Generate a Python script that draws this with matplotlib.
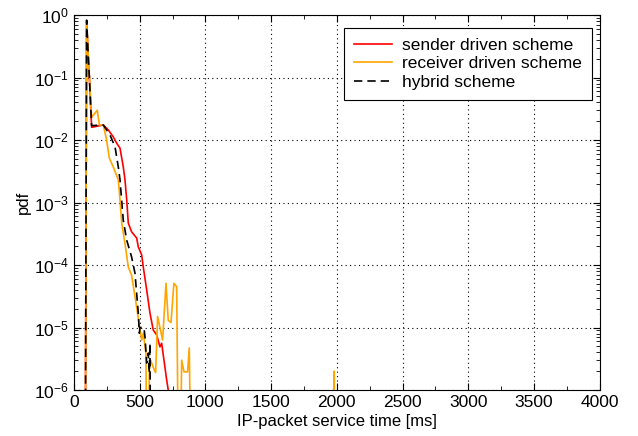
import numpy as np
import matplotlib
matplotlib.use("Agg")
import matplotlib.pyplot as plt
from matplotlib.ticker import MultipleLocator, LogLocator, NullFormatter

plt.rcParams['font.family'] = ['Liberation Sans', 'DejaVu Sans']
plt.rcParams['mathtext.default'] = 'regular'

# service time [ms] and pdf for the three schemes (values under 1e-6 drop out of view)
sender_t = [85, 96, 109, 117, 134, 223, 261, 299, 325, 350, 375, 388, 401, 413, 438, 477,
            489, 515, 527, 553, 578, 603, 629, 654, 667, 705, 717, 725]
sender_p = [1e-8, 0.8, 0.21, 0.10, 0.016, 0.0174, 0.0145, 0.0112, 0.0089, 0.0074, 0.0037,
            0.0023, 0.0011, 4.7e-4, 3.4e-4, 2.7e-4, 1.95e-4, 1.45e-4, 9.3e-5, 4.0e-5,
            1.7e-5, 9.1e-6, 7.6e-6, 4.9e-6, 5.6e-6, 1.45e-6, 1e-6, 1e-8]

receiver_t = [85, 96, 109, 117, 134, 177, 193, 223, 248, 269, 299, 337, 350, 363, 388, 413,
              438, 477, 502, 515, 527, 547, 557, 565, 573, 583, 603, 621, 636, 654, 674,
              700, 717, 738, 760, 781, 798, 805, 819, 837, 864, 877, 894, 900,
              1975, 1980, 1985]
receiver_p = [1e-8, 0.8, 0.21, 0.10, 0.023, 0.030, 0.0174, 0.0174, 0.010, 0.0051, 0.0037,
              0.0023, 0.0011, 4.7e-4, 2.2e-4, 9.3e-5, 6.9e-5, 2.1e-5,
              9.1e-6, 6.3e-6, 8.1e-6, 3.9e-6, 1e-8, 1e-8, 2.3e-6, 3.0e-6, 2.3e-6, 1.9e-6,
              1.5e-5, 1.0e-5, 6.3e-6, 5.1e-5, 1.3e-5, 1.2e-5, 5.1e-5, 4.5e-5, 1e-8, 1e-8,
              3.0e-6, 1.95e-6, 1.95e-6, 4.7e-6, 1e-8, 1e-8, 1e-8, 2.0e-6, 1e-8]

hybrid_t = [85, 96, 109, 117, 134, 223, 274, 312, 337, 350, 375, 401, 438, 464, 489, 497,
            502, 532, 540, 553, 565, 573, 578, 583]
hybrid_p = [1e-8, 0.83, 0.21, 0.10, 0.017, 0.0174, 0.012, 0.0078, 0.0037, 0.0023, 5.2e-4,
            2.5e-4, 1.35e-4, 7.4e-5, 1.7e-5, 8.1e-6, 1.0e-5, 1.0e-5, 7.1e-6, 2.7e-6,
            3.9e-6, 1.9e-6, 5.6e-6, 1e-8]

fig = plt.figure(figsize=(6.38, 4.36), dpi=100)
ax = fig.add_axes([0.116, 0.1055, 0.824, 0.86])

ax.plot(sender_t, sender_p, color='red', lw=1.2, label='sender driven scheme')
ax.plot(receiver_t, receiver_p, color='orange', lw=1.2, label='receiver driven scheme')
ax.plot(hybrid_t, hybrid_p, color='black', lw=1.2, ls=(0, (5, 3)), label='hybrid scheme')

ax.set_yscale('log')
ax.set_xlim(0, 4000)
ax.set_ylim(1e-6, 1)
ax.xaxis.set_major_locator(MultipleLocator(500))
ax.xaxis.set_minor_locator(MultipleLocator(250))
ax.yaxis.set_major_locator(LogLocator(base=10, numticks=10))
ax.yaxis.set_minor_locator(LogLocator(base=10, subs=np.arange(2, 10), numticks=20))
ax.yaxis.set_minor_formatter(NullFormatter())

ax.tick_params(which='both', direction='in', top=True, right=True, labelsize=12.5)
ax.tick_params(which='major', length=5)
ax.tick_params(which='minor', length=3)
ax.grid(True, which='major', ls=(0, (1, 3)), color='black', lw=0.8)

ax.set_xlabel('IP-packet service time [ms]', fontsize=12, labelpad=3)
ax.set_ylabel('pdf', fontsize=12, labelpad=2)

leg = ax.legend(loc='upper right', bbox_to_anchor=(0.985, 0.965), fontsize=12.5,
                fancybox=False, framealpha=1, edgecolor='black', borderaxespad=0,
                handlelength=2.2, handletextpad=0.6, labelspacing=0.2, borderpad=0.55)
leg.get_frame().set_linewidth(0.8)

fig.savefig('out.png', dpi=100)
